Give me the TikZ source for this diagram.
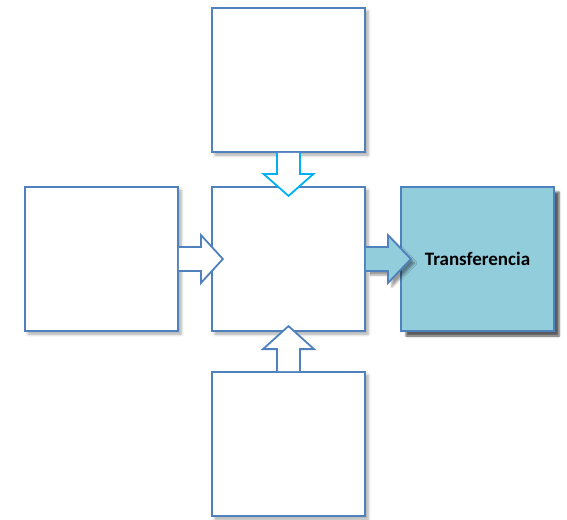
\documentclass[tikz,border=0pt]{standalone}
\usepackage{fontspec}
\setmainfont{Carlito}
\usetikzlibrary{shadows,shadows.blur}
\definecolor{officeBlue}{RGB}{79,129,189}
\definecolor{officeAqua}{RGB}{146,205,220}
\definecolor{officeCyan}{RGB}{0,176,240}

\begin{document}
\begin{tikzpicture}[x=1pt, y=-1pt]
  \tikzstyle{box} = [draw=officeBlue, fill=white, line width=1.8pt, minimum width=153pt, minimum height=144pt, blur shadow={shadow xshift=3pt, shadow yshift=-3pt, shadow blur radius=3pt, shadow opacity=35}]
  \tikzstyle{goal} = [box, fill=officeAqua, font=\fontsize{19}{22}\selectfont\bfseries, blur shadow={shadow xshift=5pt, shadow yshift=-5pt, shadow blur radius=2pt, shadow opacity=40}]
  \tikzstyle{blockarrow} = [draw=officeBlue, fill=white, line width=1.8pt, line join=miter]

  \useasboundingbox (0,0) rectangle (567,519);

  % Boxes
  \node[box] (top) at (288.5,80) {};
  \node[box] (left) at (101.5,259) {};
  \node[box] (center) at (288.5,259) {};
  \node[box] (bottom) at (288.5,444) {};
  \node[goal] (transfer) at (477.5,259) {Transferencia};

  % Block arrows into the centre box
  \begin{scope}[shift={(top.south)}]
    \draw[blockarrow, draw=officeCyan] (-11.5,0) -- (-11.5,21) -- (-25,21) -- (0,43) -- (25,21) -- (11.5,21) -- (11.5,0);
  \end{scope}
  \begin{scope}[shift={(left.east)}]
    \draw[blockarrow] (0,-12) -- (22,-12) -- (22,-24) -- (44,0) -- (22,24) -- (22,12) -- (0,12);
  \end{scope}
  \begin{scope}[shift={(bottom.north)}]
    \draw[blockarrow] (-11.5,0) -- (-11.5,-22) -- (-25.5,-22) -- (0,-45) -- (25.5,-22) -- (11.5,-22) -- (11.5,0);
  \end{scope}

  % Block arrow out to the transfer box
  \begin{scope}[shift={(center.east)}]
    \draw[blockarrow, fill=officeAqua, blur shadow={shadow xshift=4pt, shadow yshift=-4pt, shadow blur radius=2pt, shadow opacity=40}] (0,-12) -- (22,-12) -- (22,-24) -- (45,0) -- (22,24) -- (22,12) -- (0,12);
  \end{scope}
\end{tikzpicture}
\end{document}
